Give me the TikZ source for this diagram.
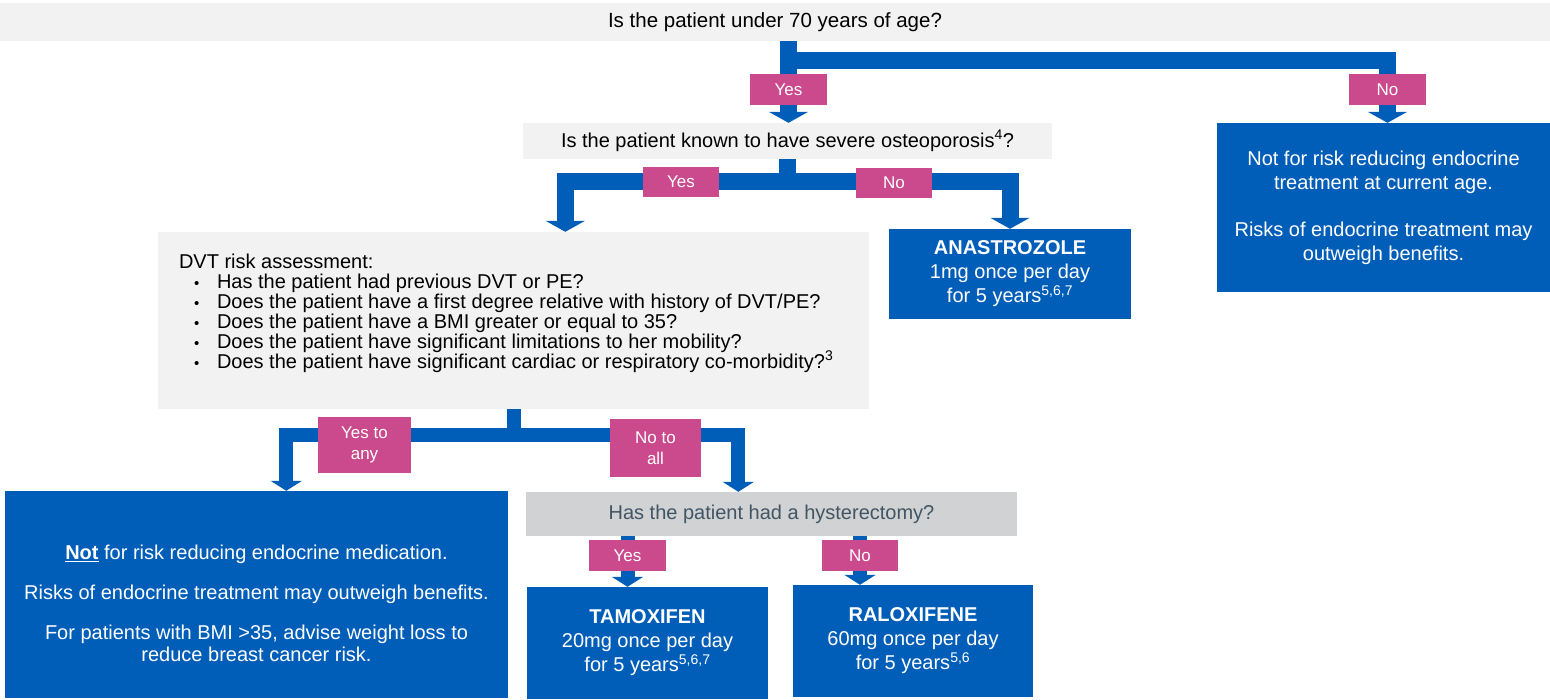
\documentclass[tikz,border=0pt]{standalone}
\usepackage{fontspec}
\setmainfont{Liberation Sans}
\usetikzlibrary{arrows.meta,calc,backgrounds}

\definecolor{nhsblue}{HTML}{005EB8}
\definecolor{tagpink}{HTML}{CB4A8D}
\definecolor{qgrey}{HTML}{F2F2F2}
\definecolor{hgrey}{HTML}{D0D2D4}
\definecolor{slate}{HTML}{425563}

\newcommand{\dvtbullet}{\hspace*{15pt}\makebox[23pt][l]{\fontsize{15}{15}\selectfont\textbullet}}

\begin{document}
\begin{tikzpicture}[x=1pt,y=-1pt,
    every node/.style={font=\fontsize{20}{24}\selectfont, inner sep=0pt, align=center},
    question/.style={fill=qgrey, text=black},
    answer/.style={fill=nhsblue, text=white},
    tag/.style={fill=tagpink, text=white, font=\fontsize{17}{21}\selectfont},
    bigflow/.style={draw=nhsblue, line width=17pt, -{Triangle[width=39pt,length=11pt]}},
    smallflow/.style={draw=nhsblue, line width=14pt, -{Triangle[width=31pt,length=10pt]}}]
\useasboundingbox (0,0) rectangle (1550,699);

% questions
\node[question, minimum width=1550pt, minimum height=38pt, font=\fontsize{20.5}{24}\selectfont] (q70) at (775,22) {Is the patient under 70 years of age?};
\node[question, minimum width=529pt, minimum height=36pt] (qost) at (787.5,141) {Is the patient known to have severe osteoporosis\textsuperscript{4}?};
\node[question, minimum width=711pt, minimum height=177pt] (dvt) at (513.5,320.5) {};
\node[anchor=west, align=left, font=\fontsize{20}{20}\selectfont] (dvtlist) at ($(dvt.west)+(21,-7.5)$) {DVT risk assessment:\\
  \dvtbullet Has the patient had previous DVT or PE?\\
  \dvtbullet Does the patient have a first degree relative with history of DVT/PE?\\
  \dvtbullet Does the patient have a BMI greater or equal to 35?\\
  \dvtbullet Does the patient have significant limitations to her mobility?\\
  \dvtbullet Does the patient have significant cardiac or respiratory co-morbidity?\smash{\textsuperscript{3}}};
\node[fill=hgrey, text=slate, minimum width=491pt, minimum height=44pt] (hyst) at (771.5,514) {Has the patient had a hysterectomy?};

% outcomes
\node[answer, minimum width=333pt, minimum height=169pt] (over70) at (1383.5,207.5) {Not for risk reducing endocrine\\treatment at current age.\\[23pt]Risks of endocrine treatment may\\outweigh benefits.};
\node[answer, minimum width=242pt, minimum height=90pt] (ana) at (1010,274) {\textbf{ANASTROZOLE}\\1mg once per day\\for 5 years\textsuperscript{5,6,7}};
\node[answer, minimum width=503pt, minimum height=207pt] (nodvt) at (256.5,594.5) {};
\node[text=white, font=\fontsize{20}{22}\selectfont] (nodvttext) at ($(nodvt.center)+(0,8.5)$) {\underline{\textbf{Not}} for risk reducing endocrine medication.\\[18pt]Risks of endocrine treatment may outweigh benefits.\\[18pt]For patients with BMI >35, advise weight loss to\\reduce breast cancer risk.};
\node[answer, minimum width=241pt, minimum height=112pt] (tamox) at (647.5,643) {\textbf{TAMOXIFEN}\\20mg once per day\\for 5 years\textsuperscript{5,6,7}};
\node[answer, minimum width=240pt, minimum height=112pt] (ralox) at (913,641) {\textbf{RALOXIFENE}\\60mg once per day\\for 5 years\textsuperscript{5,6}};

% yes / no tags
\foreach \name/\x/\y/\w/\h/\txt in {yesA/788.5/89.5/77/31/Yes, noA/1387.5/89.5/77/31/No,
    yesB/681/182/76/30/Yes, noB/894/183/76/30/No,
    yesC/364.5/445/93/56/{Yes to\\any}, noC/655.5/448/91/58/{No to\\all},
    yesD/627.5/555.5/77/31/Yes, noD/860/555.5/76/31/No}{
    \node[tag, minimum width=\w*1pt, minimum height=\h*1pt] (\name) at (\x,\y) {\txt};
}

% connectors
\begin{scope}[on background layer]
\draw[bigflow] (q70.south -| yesA) -- (qost.north -| yesA);
\draw[bigflow] (q70.south -| yesA) ++(0,19.5) -| (noA) -- (noA |- over70.north);
\draw[bigflow] (qost.south) -- ++(0,22.5) -| ($(dvt.north west)+(407.5,0)$);
\draw[bigflow] (qost.south) ++(0,22.5) -| (ana.north);
\draw[smallflow] (dvt.south) -- ++(0,26) -| ($(nodvt.north west)+(281.5,0)$);
\draw[smallflow] (dvt.south) ++(0,26) -| ($(hyst.north west)+(212.5,0)$);
\draw[smallflow] (hyst.south -| yesD) -- (tamox.north -| yesD);
\draw[smallflow] (hyst.south -| noD) -- (ralox.north -| noD);
\end{scope}

\end{tikzpicture}
\end{document}
